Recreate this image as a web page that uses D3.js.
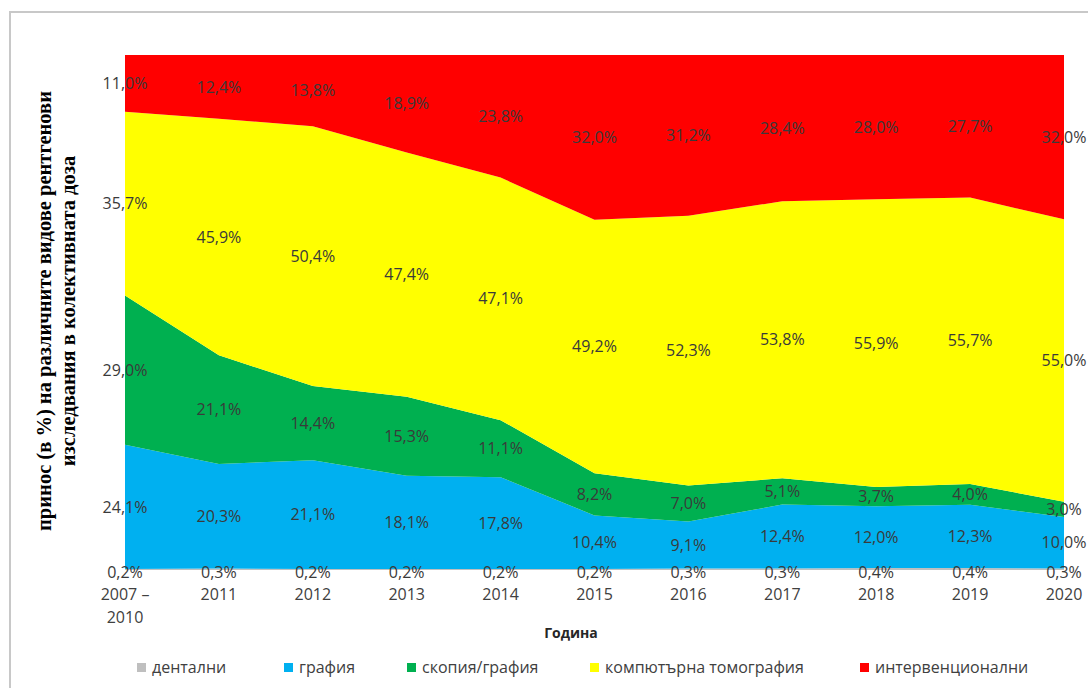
<!DOCTYPE html>
<html><head><meta charset="utf-8">
<script src="https://cdn.jsdelivr.net/npm/d3@7"></script>
<style>body{margin:0;background:#fff}svg{display:block}</style>
</head><body>
<script>
const categories = ["2007 – 2010","2011","2012","2013","2014","2015","2016","2017","2018","2019","2020"];
const seriesNames = ["дентални","графия","скопия/графия","компютърна томография","интервенционални"];
const dental = [0.2,0.3,0.2,0.2,0.2,0.2,0.3,0.3,0.4,0.4,0.3];
const grafia = [24.1,20.3,21.1,18.1,17.8,10.4,9.1,12.4,12.0,12.3,10.0];
const skopia = [29.0,21.1,14.4,15.3,11.1,8.2,7.0,5.1,3.7,4.0,3.0];
const ct = [35.7,45.9,50.4,47.4,47.1,49.2,52.3,53.8,55.9,55.7,55.0];
const interv = [11.0,12.4,13.8,18.9,23.8,32.0,31.2,28.4,28.0,27.7,32.0];
const colors = ["#BFBFBF","#00B0F0","#00B050","#FFFF00","#FF0000"];

(function(){
const W=1088,H=688;
const svg=d3.select("body").append("svg").attr("width",W).attr("height",H);
svg.append("rect").attr("x",10).attr("y",12).attr("width",1100).attr("height",700)
  .attr("fill","none").attr("stroke","#C8C8C8").attr("stroke-width",2);

const pl=125,pr=1064,pt=55,pb=570;
const keys=["d0","d1","d2","d3","d4"];
const rows=categories.map((c,i)=>({cat:c,d0:dental[i],d1:grafia[i],d2:skopia[i],d3:ct[i],d4:interv[i]}));
const stack=d3.stack().keys(keys).offset(d3.stackOffsetExpand)(rows);
const x=d3.scalePoint().domain(categories).range([pl,pr]);
const y=d3.scaleLinear().domain([0,1]).range([pb,pt]);
const area=d3.area().x(d=>x(d.data.cat)).y0(d=>y(d[0])).y1(d=>y(d[1]));
svg.append("g").selectAll("path").data(stack).join("path")
  .attr("d",area).attr("fill",(d,i)=>colors[i]);

const fmt=v=>v.toFixed(1).replace(".",",")+"%";
const lg=svg.append("g").attr("font-family","Open Sans, sans-serif").attr("font-size",16).attr("fill","#3a3a3a").attr("text-anchor","middle");
stack.forEach((s,si)=>{
  s.forEach(d=>{
    let cy=(y(d[0])+y(d[1]))/2;
    if(si===0) cy=pb+2;
    lg.append("text").attr("x",x(d.data.cat)).attr("y",cy).attr("dy","0.35em").text(fmt(d.data[s.key]));
  });
});

const xa=svg.append("g").attr("font-family","Open Sans, sans-serif").attr("font-size",16).attr("fill","#404040").attr("text-anchor","middle");
categories.forEach(c=>{
  const parts=c==="2007 – 2010"?["2007 –","2010"]:[c];
  const t=xa.append("text").attr("x",x(c)).attr("y",600);
  parts.forEach((p,i)=>t.append("tspan").attr("x",x(c)).attr("dy",i?23:0).text(p));
});

svg.append("text").attr("x",571).attr("y",638).attr("text-anchor","middle")
  .attr("font-family","Open Sans, sans-serif").attr("font-weight","bold").attr("font-size",14).attr("fill","#262626").text("Година");

const yt=svg.append("text").attr("transform","translate(51,311) rotate(-90)").attr("text-anchor","middle")
  .attr("font-family","Liberation Serif, serif").attr("font-weight","bold").attr("font-size",20.5).attr("fill","#000");
yt.append("tspan").attr("x",0).attr("dy",0).text("принос (в %) на различните видове рентгенови");
yt.append("tspan").attr("x",0).attr("dy",24).text("изследвания в колективната доза");

const legX=[137,284,407,590,860];
const leg=svg.append("g").attr("font-family","Open Sans, sans-serif").attr("font-size",16).attr("fill","#404040");
seriesNames.forEach((n,i)=>{
  leg.append("rect").attr("x",legX[i]).attr("y",663).attr("width",9).attr("height",9).attr("fill",colors[i]);
  leg.append("text").attr("x",legX[i]+15).attr("y",667).attr("dy","0.35em").text(n);
});
})();
</script>
</body></html>
